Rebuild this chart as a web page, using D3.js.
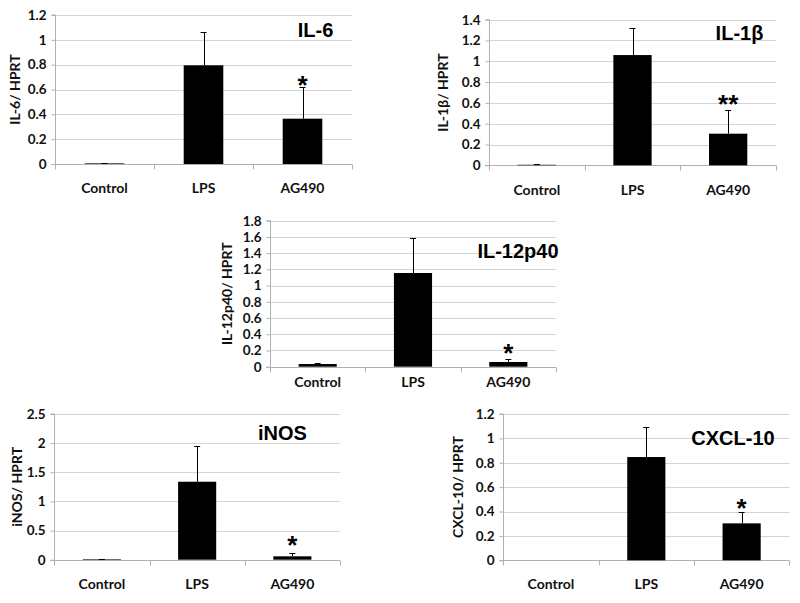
<!DOCTYPE html>
<html><head><meta charset="utf-8">
<script src="https://cdn.jsdelivr.net/npm/d3@7"></script>
<style>
html,body{margin:0;padding:0;background:#fff;}
svg{display:block;}
.tick-lbl{font-family:Lato,"Open Sans",sans-serif;font-weight:700;font-size:13.5px;fill:#111;}
.cat-lbl{font-family:Lato,"Open Sans",sans-serif;font-weight:700;font-size:14px;fill:#111;}
.ytitle{font-family:Lato,"Open Sans",sans-serif;font-weight:700;font-size:14px;fill:#111;}
.ptitle{font-family:"Liberation Sans",Arial,sans-serif;font-weight:700;font-size:20px;fill:#000;}
.star{font-family:"Liberation Sans",Arial,sans-serif;font-weight:700;font-size:26px;fill:#000;}
</style>
</head><body>
<svg id="chart" width="800" height="603"></svg>
<script>
// ---------------- data ----------------
const categories = ["Control", "LPS", "AG490"];

const il6Values   = [0.005, 0.795, 0.365];
const il6Errors   = [0.003, 0.265, 0.252];
const il6Ticks    = [0, 0.2, 0.4, 0.6, 0.8, 1, 1.2];
const il6Marks    = ["", "", "*"];

const il1bValues  = [0.005, 1.06, 0.304];
const il1bErrors  = [0.004, 0.26, 0.225];
const il1bTicks   = [0, 0.2, 0.4, 0.6, 0.8, 1, 1.2, 1.4];
const il1bMarks   = ["", "", "**"];

const il12Values  = [0.033, 1.155, 0.058];
const il12Errors  = [0.012, 0.428, 0.032];
const il12Ticks   = [0, 0.2, 0.4, 0.6, 0.8, 1, 1.2, 1.4, 1.6, 1.8];
const il12Marks   = ["", "", "*"];

const inosValues  = [0.01, 1.338, 0.058];
const inosErrors  = [0.003, 0.61, 0.052];
const inosTicks   = [0, 0.5, 1, 1.5, 2, 2.5];
const inosMarks   = ["", "", "*"];

const cxclValues  = [0, 0.847, 0.303];
const cxclErrors  = [0, 0.243, 0.091];
const cxclTicks   = [0, 0.2, 0.4, 0.6, 0.8, 1, 1.2];
const cxclMarks   = ["", "", "*"];

// ---------------- layout ----------------
const panels = [
  {title:"IL-6", ytitle:"IL-6/ HPRT", values:il6Values, errors:il6Errors, ticks:il6Ticks, marks:il6Marks,
   left:55, right:352, top:15, bottom:164, catY:193, titleX:315.5, titleY:37, ytX:15, starOff:8},
  {title:"IL-1β", ytitle:"IL-1β/ HPRT", values:il1bValues, errors:il1bErrors, ticks:il1bTicks, marks:il1bMarks,
   left:489, right:776, top:19.7, bottom:165.3, catY:195, titleX:739.5, titleY:40, ytX:443, starOff:12},
  {title:"IL-12p40", ytitle:"IL-12p40/ HPRT", values:il12Values, errors:il12Errors, ticks:il12Ticks, marks:il12Marks,
   left:270, right:556, top:220.7, bottom:366.7, catY:387, titleX:518, titleY:258, ytX:227, starOff:12.5},
  {title:"iNOS", ytitle:"iNOS/ HPRT", values:inosValues, errors:inosErrors, ticks:inosTicks, marks:inosMarks,
   left:54.3, right:340, top:414, bottom:559.7, catY:589, titleX:282.5, titleY:440, ytX:17, starOff:14},
  {title:"CXCL-10", ytitle:"CXCL-10/ HPRT", values:cxclValues, errors:cxclErrors, ticks:cxclTicks, marks:cxclMarks,
   left:503.3, right:789.3, top:414, bottom:560.3, catY:589, titleX:733, titleY:445, ytX:458, starOff:10.5}
];

const svg = d3.select("#chart");
const gridColor = "#d4d4d4";
const axisColor = "#b0b0b0";

panels.forEach(p => {
  const g = svg.append("g");
  const ymax = p.ticks[p.ticks.length - 1];
  const y = d3.scaleLinear().domain([0, ymax]).range([p.bottom, p.top]);
  const x = d3.scaleBand().domain(categories).range([p.left, p.right])
              .paddingInner(0.6).paddingOuter(0.3);
  const step = (p.right - p.left) / categories.length;

  // gridlines
  g.selectAll(".grid").data(p.ticks.filter(t => t > 0)).enter().append("line")
    .attr("x1", p.left).attr("x2", p.right)
    .attr("y1", d => Math.round(y(d)) + 0.5).attr("y2", d => Math.round(y(d)) + 0.5)
    .attr("stroke", gridColor).attr("stroke-width", 1);

  // y axis
  const yAxis = d3.axisLeft(y).tickValues(p.ticks).tickSize(4).tickPadding(5)
    .tickFormat(d => String(+d.toFixed(2)));
  const ya = g.append("g").attr("transform", `translate(${Math.round(p.left) + 0.5},0)`).call(yAxis);
  ya.select(".domain").attr("stroke", axisColor).attr("d", `M-4,${p.top}H0V${p.bottom}`);
  ya.selectAll(".tick line").attr("stroke", axisColor);
  ya.selectAll(".tick text").attr("class", "tick-lbl").attr("fill", null);
  ya.attr("font-family", null).attr("font-size", null);

  // x axis line and separators
  const by = Math.round(y(0)) + 0.5;
  g.append("line").attr("x1", p.left - 4).attr("x2", p.right).attr("y1", by).attr("y2", by)
    .attr("stroke", axisColor);
  g.selectAll(".sep").data(d3.range(categories.length + 1)).enter().append("line")
    .attr("x1", i => Math.round(p.left + i * step) + 0.5).attr("x2", i => Math.round(p.left + i * step) + 0.5)
    .attr("y1", by).attr("y2", by + 5).attr("stroke", axisColor);

  // bars
  const data = categories.map((c, i) => ({c, v: p.values[i], e: p.errors[i], m: p.marks[i]}));
  g.selectAll(".bar").data(data).enter().append("rect")
    .attr("x", d => x(d.c)).attr("width", x.bandwidth())
    .attr("y", d => y(d.v)).attr("height", d => Math.max(0, y(0) - y(d.v)))
    .attr("fill", "#000");

  // error bars (upper only)
  const eb = g.selectAll(".err").data(data.filter(d => d.e > 0)).enter().append("g");
  eb.append("line")
    .attr("x1", d => Math.round(x(d.c) + x.bandwidth() / 2) + 0.5)
    .attr("x2", d => Math.round(x(d.c) + x.bandwidth() / 2) + 0.5)
    .attr("y1", d => y(d.v)).attr("y2", d => y(d.v + d.e))
    .attr("stroke", "#000").attr("stroke-width", 1);
  eb.append("line")
    .attr("x1", d => x(d.c) + x.bandwidth() / 2 - 3)
    .attr("x2", d => x(d.c) + x.bandwidth() / 2 + 3)
    .attr("y1", d => Math.round(y(d.v + d.e)) + 0.5).attr("y2", d => Math.round(y(d.v + d.e)) + 0.5)
    .attr("stroke", "#000").attr("stroke-width", 1);

  // significance marks
  g.selectAll(".star").data(data.filter(d => d.m)).enter().append("text")
    .attr("class", "star").attr("text-anchor", "middle")
    .attr("x", d => x(d.c) + x.bandwidth() / 2)
    .attr("y", d => y(d.v + d.e) - p.starOff + 15)
    .text(d => d.m);

  // category labels
  g.selectAll(".cat").data(categories).enter().append("text")
    .attr("class", "cat-lbl").attr("text-anchor", "middle")
    .attr("x", c => x(c) + x.bandwidth() / 2).attr("y", p.catY)
    .text(c => c);

  // y title
  const cy = (p.top + p.bottom) / 2;
  g.append("text").attr("class", "ytitle").attr("text-anchor", "middle")
    .attr("transform", `translate(${p.ytX + 5},${cy}) rotate(-90)`)
    .text(p.ytitle);

  // panel title
  g.append("text").attr("class", "ptitle").attr("text-anchor", "middle")
    .attr("x", p.titleX).attr("y", p.titleY).text(p.title);
});
</script>
</body></html>
